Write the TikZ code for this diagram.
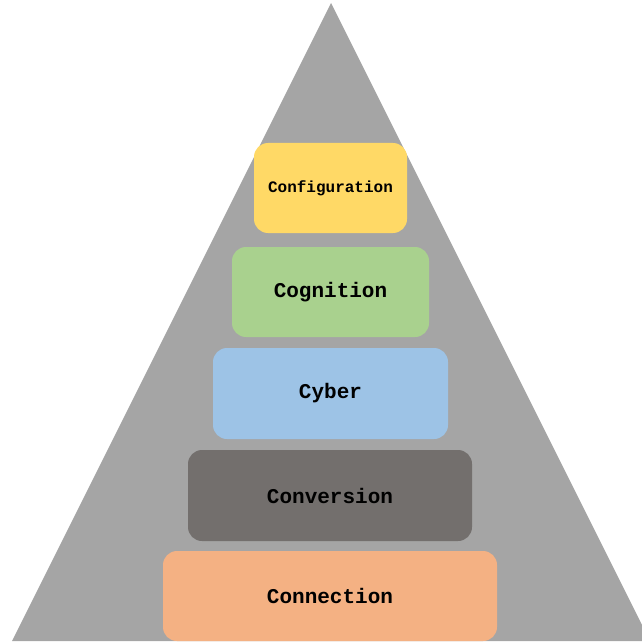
\documentclass[tikz,border=0pt]{standalone}
\usepackage{fontspec}
\newfontfamily\cour{Liberation Mono}
\definecolor{pyrgray}{HTML}{A5A5A5}
\definecolor{lvlyellow}{HTML}{FFD966}
\definecolor{lvlgreen}{HTML}{A9D18E}
\definecolor{lvlblue}{HTML}{9DC3E6}
\definecolor{lvldark}{HTML}{736F6D}
\definecolor{lvlorange}{HTML}{F4B183}
\tikzset{
  lvlbox/.style={draw=none, rounded corners=14pt, inner sep=0pt, minimum height=90pt,
    font=\cour\bfseries\fontsize{21}{24}\selectfont, text=black},
}
\begin{document}
\begin{tikzpicture}[x=1pt,y=1pt]
\useasboundingbox (0,0) rectangle (642,641);
\begin{scope}
\clip (0,0) rectangle (642,641);
\fill[pyrgray] (331,638) -- (12,0) -- (650,0) -- cycle;
\end{scope}
\node[lvlbox, fill=lvlyellow, minimum width=153pt] (conf) at (330.5,453) {\raisebox{-1pt}{\fontsize{16}{19}\selectfont Configuration}};
\node[lvlbox, fill=lvlgreen, minimum width=197pt] (cogn) at (330.5,349) {Cognition};
\node[lvlbox, fill=lvlblue, minimum width=235pt, minimum height=91pt] (cyber) at (330.5,247.5) {Cyber};
\node[lvlbox, fill=lvldark, minimum width=284pt, minimum height=91pt] (conv) at (330,145.5) {Conversion};
\node[lvlbox, fill=lvlorange, minimum width=334pt] (conn) at (330,45) {Connection};
\end{tikzpicture}
\end{document}
